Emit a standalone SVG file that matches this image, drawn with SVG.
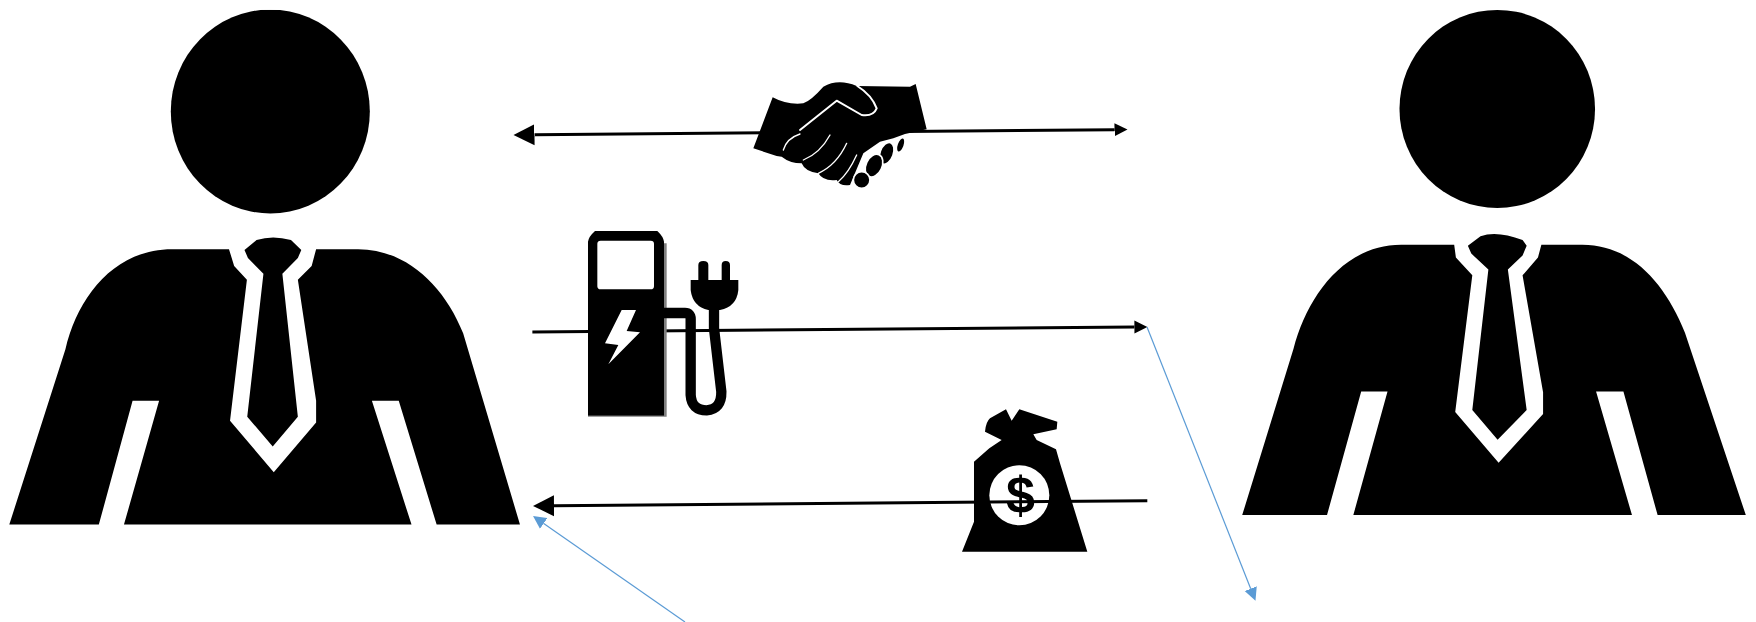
<svg xmlns="http://www.w3.org/2000/svg" width="1756" height="622" viewBox="0 0 1756 622">
<style>
.k{fill:#000}
.w{fill:#fff}
.wl{fill:none;stroke:#fff;stroke-width:6;stroke-linejoin:round;stroke-linecap:round}
.wt{fill:none;stroke:#fff;stroke-width:4;stroke-linecap:round}
.kn{fill:#000;stroke:#fff;stroke-width:5}
.c{fill:none;stroke:#000;stroke-width:3}
.b{fill:none;stroke:#5B9BD5;stroke-width:1.2}
.cable{fill:none;stroke:#000;stroke-width:31}
</style>
<defs>
<marker id="big" markerUnits="userSpaceOnUse" viewBox="0 -11 22 22" markerWidth="22" markerHeight="22" refX="0" refY="0" orient="auto-start-reverse"><path d="M0,-10.5L21,0L0,10.5Z" fill="#000"/></marker>
<marker id="small" markerUnits="userSpaceOnUse" viewBox="0 -7 14 14" markerWidth="14" markerHeight="14" refX="0" refY="0" orient="auto"><path d="M0,-6.5L13,0L0,6.5Z" fill="#000"/></marker>
<marker id="blue" markerUnits="userSpaceOnUse" viewBox="0 -7 14 14" markerWidth="14" markerHeight="14" refX="0" refY="0" orient="auto"><path d="M0,-6.5L13,0L0,6.5Z" fill="#5B9BD5"/></marker>
</defs>
<rect width="1756" height="622" fill="#fff"/>
<g id="person-left" transform="scale(0.34435,0.39683)">
<ellipse class="k" cx="785" cy="281" rx="289" ry="257"/>
<rect class="w" x="400" y="0" width="800" height="25"/>
<path class="k" d="M27,1322L190,880C225,750 330,628 500,628H665L680,670L717,705L668,1060L795,1190L918,1065V1010L865,705L905,670L918,628H1040C1180,628 1290,720 1345,840L1510,1322H1268L1158,1010H1080L1195,1322H360L462,1010H385L287,1322Z"/>
<path class="k" d="M745,605Q792,592 845,605L875,630L865,650L820,690L865,1050L792,1125L718,1050L765,690L720,650L710,630Z"/>
</g>
<g id="person-right" transform="translate(1220,0) scale(0.34188,0.3962)">
<ellipse class="k" cx="811" cy="275" rx="286" ry="250"/>
<rect class="w" x="400" y="0" width="800" height="25"/>
<path class="k" d="M65,1300L215,880C255,750 360,618 530,618H685L690,650L738,695L688,1040L815,1168L945,1045V990L885,695L930,650L940,618H1060C1200,618 1300,710 1360,840L1538,1300H1280L1180,988H1100L1205,1300H390L490,988H413L313,1300Z"/>
<path class="k" d="M762,596Q812,582 885,606L897,620L885,645L842,680L897,1035L812,1110L738,1035L785,680L735,640L725,620Z"/>
</g>
<g id="money-bag" transform="translate(900,380) scale(0.33333)">
<path class="k" d="M222,245L268,205L305,180L255,155Q258,125 270,115L318,88L335,122L358,88L472,125L470,148L400,163L410,180L468,208L480,250L562,515H186L222,425Z"/>
<circle class="w" cx="358" cy="346" r="90"/>
</g>
<g id="connectors">
<path class="c" d="M534.5,134.7L1114.5,129.7" marker-start="url(#big)" marker-end="url(#small)"/>
<path class="c" d="M532.4,332L1134.4,327" marker-end="url(#small)"/>
<path class="c" d="M1147.3,500.7L554,505.7" marker-end="url(#big)"/>
<path class="b" d="M1147,327L1250.7,588.7" marker-end="url(#blue)"/>
<path class="b" d="M685,622L543.7,523.4" marker-end="url(#blue)"/>
</g>
<g id="money-symbol">
<text x="1020.5" y="513" font-family="Liberation Sans, sans-serif" font-weight="700" font-size="52" text-anchor="middle" fill="#000">$</text>
</g>
<g id="handshake" transform="translate(740,70) scale(0.33333)">
<path class="k" d="M98,82Q140,105 190,100Q215,90 250,50Q295,25 350,48L510,50L527,42L560,178L495,192L460,205L420,215L370,250L330,345Q300,350 290,330Q250,335 235,310Q195,305 185,280Q150,280 125,260L110,258L40,235Z"/>
<path class="wl" d="M180,180L290,92L365,135Q400,140 410,115Q395,75 352,48"/>
<path class="wt" d="M130,240Q140,205 180,192M270,195Q240,250 190,270M320,220Q290,285 235,310M350,255Q325,310 295,335"/>
<ellipse class="kn" cx="482" cy="225" rx="11" ry="23" transform="rotate(20 482 225)"/>
<ellipse class="kn" cx="440" cy="250" rx="20" ry="34" transform="rotate(20 440 250)"/>
<ellipse class="kn" cx="402" cy="287" rx="24" ry="36" transform="rotate(25 402 287)"/>
<circle class="kn" cx="365" cy="330" r="25"/>
</g>
<g id="ev-charger" transform="translate(580,225) scale(0.33333)">
<path d="M252,55H260V575H24V572H252Z" fill="#808080"/>
<path class="k" d="M24,50Q26,35 45,18H232Q250,35 252,50V572H24Z"/>
<rect class="w" x="52" y="47" width="170" height="146" rx="10"/>
<path class="w" d="M125,255H168L140,318L180,322L85,418L115,360L75,355Z"/>
<path class="cable" d="M252,264H315Q332,264 332,282V510Q335,556 380,556Q425,553 424,500L402,310V240"/>
<path class="k" d="M332,165H475V195Q470,245 420,255H385Q338,245 332,195Z"/>
<path class="k" d="M355,170V120Q355,108 370,108Q385,108 385,120V170ZM425,170V120Q425,108 437,108Q450,108 450,120V170Z"/>
</g>
</svg>
